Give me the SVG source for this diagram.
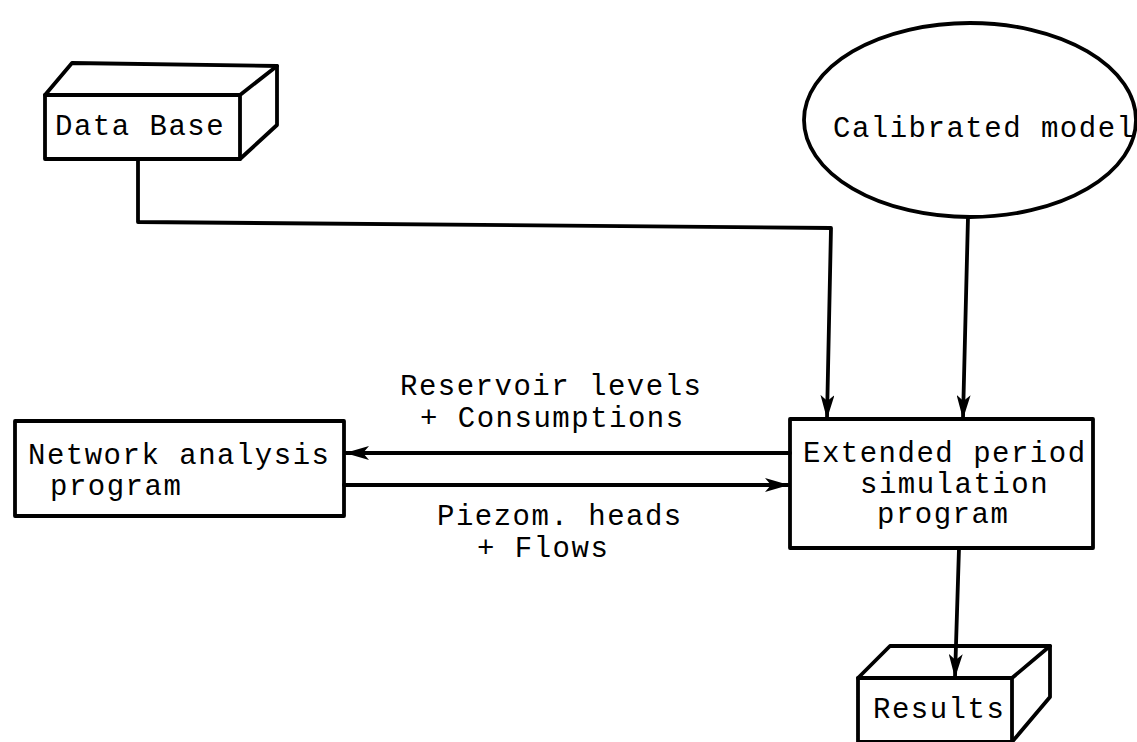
<svg xmlns="http://www.w3.org/2000/svg" width="1137" height="742" viewBox="0 0 1137 742">
<style>
.s{fill:none;stroke:#000;stroke-width:3.8;stroke-linejoin:round;stroke-linecap:round}
.f{fill:#fff;stroke:#000;stroke-width:3.8;stroke-linejoin:round}
text{font-family:"Liberation Mono","DejaVu Sans Mono",monospace;font-size:29px;letter-spacing:1.5px;fill:#000}
</style>
<defs>
<marker id="ah" viewBox="0 0 24 14" refX="23" refY="7" markerWidth="24" markerHeight="14" markerUnits="userSpaceOnUse" orient="auto">
<path d="M0,0 L24,7 L0,14 L6,7 Z" fill="#000"/>
</marker>
</defs>
<rect width="1137" height="742" fill="#fff"/>
<g id="database">
<path class="f" d="M45,95 L72,63 L277,66 L277,125 L240,159 L45,159 Z"/>
<path class="s" d="M45,95 L240,95 L277,66 M240,95 L240,159"/>
<text x="55" y="135">Data Base</text>
</g>
<g id="calibrated">
<ellipse class="f" cx="970" cy="120" rx="166" ry="97"/>
<text x="833" y="137">Calibrated model</text>
</g>
<g id="network">
<rect class="f" x="15" y="421" width="329" height="95"/>
<text x="28" y="464">Network analysis</text>
<text x="50" y="495">program</text>
</g>
<g id="extended">
<rect class="f" x="790" y="419" width="303" height="129"/>
<text x="803" y="462">Extended period</text>
<text x="860" y="493">simulation</text>
<text x="877" y="523">program</text>
</g>
<g id="results">
<path class="f" d="M858,678 L890,646 L1050,646 L1050,697 L1012,742 L858,742 Z"/>
<path class="s" d="M858,678 L1012,678 L1050,646 M1012,678 L1012,745"/>
<text x="873" y="718">Results</text>
</g>
<g id="connectors">
<path class="s" d="M138,160 L138,222 L831,228 L827,418" marker-end="url(#ah)"/>
<path class="s" d="M968,217 L963,418" marker-end="url(#ah)"/>
<path class="s" d="M790,453 L346,453" marker-end="url(#ah)"/>
<path class="s" d="M344,485 L788,485" marker-end="url(#ah)"/>
<path class="s" d="M959,548 L955,677" marker-end="url(#ah)"/>
</g>
<g id="labels">
<text x="400" y="395">Reservoir levels</text>
<text x="420" y="427">+ Consumptions</text>
<text x="437" y="525">Piezom. heads</text>
<text x="477" y="557">+ Flows</text>
</g>
</svg>
